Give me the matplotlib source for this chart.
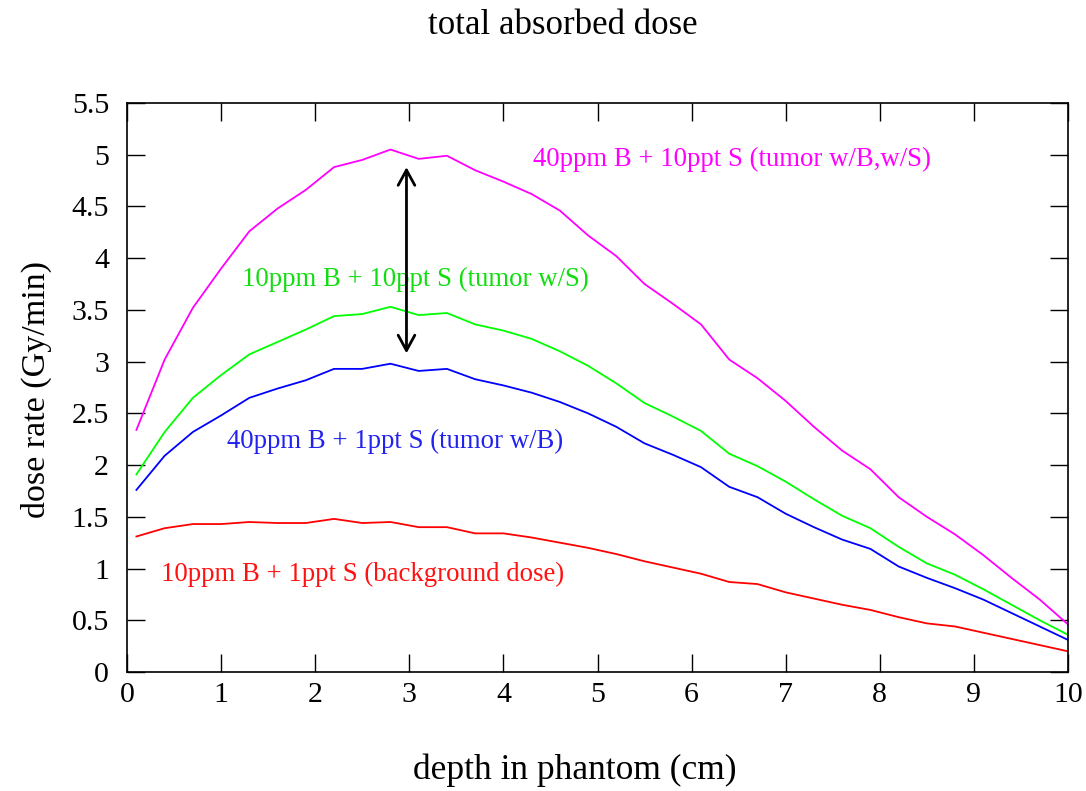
import matplotlib
matplotlib.use("Agg")
import matplotlib.pyplot as plt

depth = [0.1, 0.4, 0.7, 1.0, 1.3, 1.6, 1.9, 2.2, 2.5, 2.8, 3.1, 3.4, 3.7, 4.0, 4.3, 4.6,
         4.9, 5.2, 5.5, 5.8, 6.1, 6.4, 6.7, 7.0, 7.3, 7.6, 7.9, 8.2, 8.5, 8.8, 9.1, 9.4,
         9.7, 10.0]

tumor_BS = [2.34, 3.02, 3.52, 3.90, 4.26, 4.48, 4.66, 4.88, 4.95, 5.05, 4.96, 4.99, 4.85,
            4.74, 4.62, 4.46, 4.22, 4.02, 3.75, 3.56, 3.36, 3.02, 2.84, 2.62, 2.37, 2.14,
            1.96, 1.69, 1.50, 1.33, 1.13, 0.91, 0.70, 0.46]
tumor_S = [1.91, 2.32, 2.65, 2.87, 3.07, 3.19, 3.31, 3.44, 3.46, 3.53, 3.45, 3.47, 3.36,
           3.30, 3.22, 3.10, 2.96, 2.79, 2.60, 2.47, 2.33, 2.11, 1.99, 1.84, 1.67, 1.51,
           1.39, 1.21, 1.05, 0.94, 0.80, 0.65, 0.50, 0.36]
tumor_B = [1.76, 2.09, 2.32, 2.48, 2.65, 2.74, 2.82, 2.93, 2.93, 2.98, 2.91, 2.93, 2.83,
           2.77, 2.70, 2.61, 2.50, 2.37, 2.21, 2.10, 1.98, 1.79, 1.69, 1.53, 1.40, 1.28,
           1.19, 1.02, 0.91, 0.81, 0.70, 0.57, 0.44, 0.31]
background = [1.31, 1.39, 1.43, 1.43, 1.45, 1.44, 1.44, 1.48, 1.44, 1.45, 1.40, 1.40, 1.34,
              1.34, 1.30, 1.25, 1.20, 1.14, 1.07, 1.01, 0.95, 0.87, 0.85, 0.77, 0.71, 0.65,
              0.60, 0.53, 0.47, 0.44, 0.38, 0.32, 0.26, 0.20]

labels = ["40ppm B + 10ppt S (tumor w/B,w/S)",
          "10ppm B + 10ppt S (tumor w/S)",
          "40ppm B + 1ppt S (tumor w/B)",
          "10ppm B + 1ppt S (background dose)"]
label_pos = [(4.31, 4.95), (1.22, 3.79), (1.06, 2.23), (0.36, 0.94)]
colors = ["#ff00ff", "#00ff00", "#0000ff", "#ff0000"]
text_colors = ["#ff00ff", "#11dd11", "#2222ee", "#ff1111"]

arrow_x = 2.97
arrow_y = (3.08, 4.88)

xticks = list(range(0, 11))
yticks = [0, 0.5, 1, 1.5, 2, 2.5, 3, 3.5, 4, 4.5, 5, 5.5]
ytick_labels = ["0", "0.5", "1", "1.5", "2", "2.5", "3", "3.5", "4", "4.5", "5", "5.5"]

plt.rcParams['font.family'] = ['Liberation Serif', 'DejaVu Serif']

fig = plt.figure(figsize=(10.86, 7.91), dpi=100)
ax = fig.add_axes([127/1086, 1 - 672/791, (1068-127)/1086, (672-103)/791])

for ys, c in zip([tumor_BS, tumor_S, tumor_B, background], colors):
    ax.plot(depth, ys, color=c, lw=1.3)

for lab, (tx, ty), c in zip(labels, label_pos, text_colors):
    ax.text(tx, ty, lab, color=c, fontsize=19.3, ha='left', va='center')

ax.annotate("", xy=(arrow_x, arrow_y[1]), xytext=(arrow_x, arrow_y[0]),
            arrowprops=dict(arrowstyle="<->,head_length=1.1,head_width=0.6",
                            color='black', lw=2, shrinkA=0, shrinkB=0))

ax.set_xlim(0, 10)
ax.set_ylim(0, 5.5)
ax.set_xticks(xticks)
ax.set_yticks(yticks)
ax.set_yticklabels(ytick_labels)
ax.tick_params(direction='in', length=13, width=1, top=True, right=True,
               labelsize=21.5, colors='black')
ax.tick_params(axis='x', pad=7)
ax.tick_params(axis='y', pad=13)
for sp in ax.spines.values():
    sp.set_linewidth(1.2)

fig.text(575/1086, 1 - 770/791, "depth in phantom (cm)", fontsize=25.5,
         ha='center', va='center')
fig.text(36/1086, 1 - 390/791, "dose rate (Gy/min)", fontsize=24.5,
         ha='center', va='center', rotation=90)
fig.text(563/1086, 1 - 25/791, "total absorbed dose", fontsize=25, ha='center', va='center')

fig.savefig("out.png", dpi=100)
